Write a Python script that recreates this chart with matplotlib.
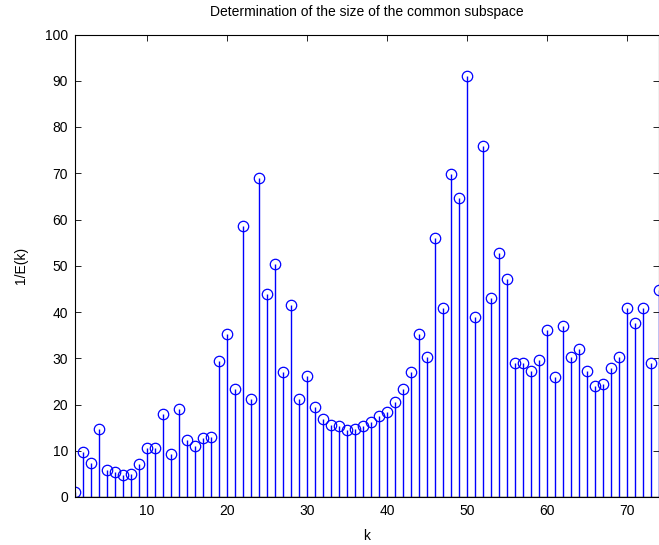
import matplotlib

matplotlib.use("Agg")
import matplotlib.pyplot as plt
import numpy as np

# 1/E(k) values, k = 1..74
k = np.arange(1, 75)
inv_err = [
    1.0, 9.8, 7.4, 14.6, 5.8, 5.4, 4.7, 4.9, 7.1, 10.7,
    10.7, 18.0, 9.2, 19.0, 12.3, 11.0, 12.8, 13.0, 29.3, 35.2,
    23.3, 58.7, 21.2, 69.0, 44.0, 50.4, 27.1, 41.6, 21.2, 26.2,
    19.4, 16.9, 15.6, 15.4, 14.5, 14.7, 15.4, 16.3, 17.5, 18.4,
    20.6, 23.3, 27.0, 35.2, 30.2, 56.1, 40.9, 69.8, 64.6, 91.1,
    39.0, 75.9, 43.1, 52.8, 47.1, 28.9, 28.9, 27.2, 29.6, 36.2,
    25.9, 37.0, 30.3, 31.9, 27.2, 23.9, 24.5, 28.0, 30.3, 40.9,
    37.7, 40.9, 28.9, 44.8,
]

xticks = [10, 20, 30, 40, 50, 60, 70]
yticks = np.arange(0, 101, 10)

plt.rcParams["font.family"] = ["Liberation Sans", "DejaVu Sans"]
plt.rcParams["font.size"] = 10

fig = plt.figure(figsize=(6.59, 5.45), dpi=100)
ax = fig.add_axes([75 / 659, 48 / 545, 584 / 659, 462.5 / 545])

markerline, stemlines, baseline = ax.stem(k, inv_err, linefmt="b-", markerfmt="bo", basefmt="k-")
plt.setp(stemlines, linewidth=1.0, color=(0, 0, 1))
plt.setp(markerline, markersize=7.5, markerfacecolor="none", markeredgecolor=(0, 0, 1),
         markeredgewidth=0.9)
plt.setp(baseline, linewidth=1.0, color="k")

ax.set_xlim(1, 74)
ax.set_ylim(0, 100)
ax.set_xticks(xticks)
ax.set_yticks(yticks)
ax.tick_params(direction="in", top=True, right=True, length=4.5, width=0.6, pad=5)
for s in ax.spines.values():
    s.set_linewidth(0.8)

ax.set_title("Determination of the size of the common subspace", fontsize=10, pad=13)
ax.set_xlabel("k", labelpad=8)
ax.set_ylabel("1/E(k)", labelpad=12)

fig.savefig("out.png", dpi=100)
